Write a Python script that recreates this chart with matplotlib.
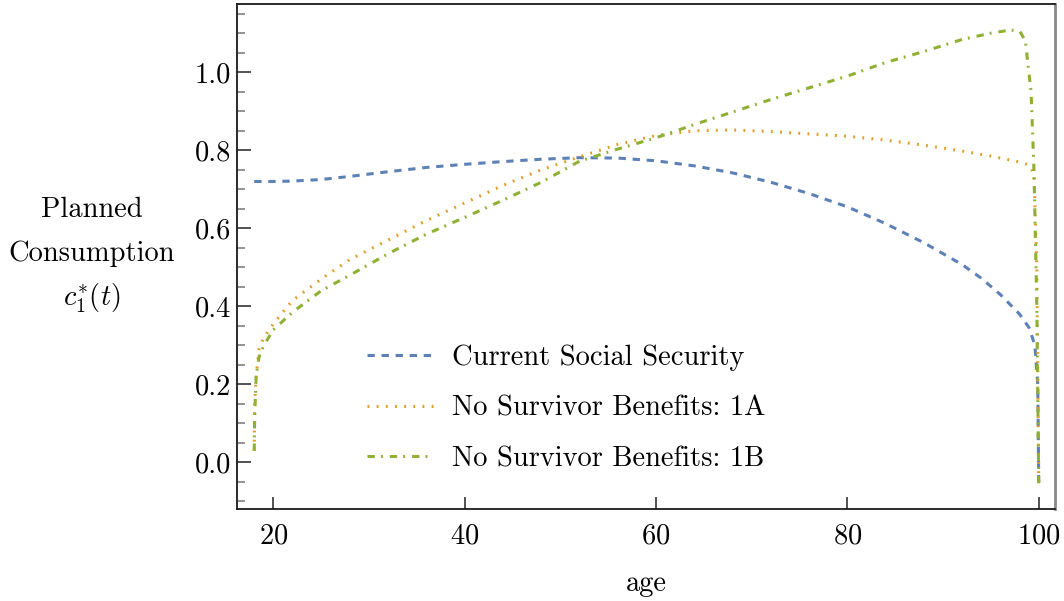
import numpy as np
import matplotlib
matplotlib.use("Agg")
import matplotlib.pyplot as plt
from matplotlib.ticker import MultipleLocator, FormatStrFormatter

plt.rcParams['font.family'] = 'cmr10'
plt.rcParams['mathtext.fontset'] = 'cm'
plt.rcParams['axes.formatter.use_mathtext'] = True
plt.rcParams['axes.unicode_minus'] = False

# planned consumption paths by age
age_cur = [18, 20, 22, 25, 28, 32, 36, 40, 44, 48, 52, 56, 60, 64, 68, 72, 76,
           80, 84, 88, 92, 94, 96, 98, 99, 99.6, 99.9, 100]
c_cur = [0.72, 0.72, 0.721, 0.725, 0.733, 0.745, 0.756, 0.764, 0.771, 0.777,
         0.781, 0.780, 0.773, 0.760, 0.742, 0.718, 0.689, 0.655, 0.612, 0.563,
         0.507, 0.472, 0.43, 0.38, 0.345, 0.30, 0.20, -0.055]

age_1a = [18, 18.05, 18.2, 18.5, 19, 20, 22, 25, 28, 32, 36, 40, 44, 48, 52,
          56, 60, 64, 68, 72, 76, 80, 84, 88, 92, 95, 97, 98, 99, 99.5, 99.8, 100]
c_1a = [0.03, 0.15, 0.22, 0.29, 0.32, 0.355, 0.415, 0.47, 0.52, 0.57, 0.62,
        0.665, 0.71, 0.75, 0.783, 0.815, 0.838, 0.85, 0.852, 0.848, 0.842,
        0.836, 0.826, 0.813, 0.798, 0.785, 0.775, 0.77, 0.762, 0.74, 0.5, -0.055]

age_1b = [18, 18.05, 18.2, 18.5, 19, 20, 22, 25, 28, 32, 36, 40, 44, 48, 52,
          56, 60, 64, 68, 72, 76, 80, 84, 88, 92, 95, 97, 98, 98.6, 99.2, 99.5,
          99.8, 100]
c_1b = [0.03, 0.12, 0.22, 0.27, 0.30, 0.34, 0.385, 0.44, 0.48, 0.535, 0.585,
        0.628, 0.672, 0.718, 0.772, 0.803, 0.832, 0.866, 0.898, 0.93, 0.96,
        0.99, 1.025, 1.053, 1.084, 1.10, 1.108, 1.106, 1.08, 0.95, 0.75, 0.4,
        -0.055]

labels = ['Current Social Security', 'No Survivor Benefits: 1A',
          'No Survivor Benefits: 1B']
colors = ['#5E81B5', '#E19C24', '#8FB032']

fs = 20.5

fig = plt.figure(figsize=(10.64, 6.01), dpi=100)
ax = fig.add_axes([237 / 1064, 1 - 509.3 / 601, 818 / 1064, 505 / 601])

lw = 2.2
ax.plot(age_cur, c_cur, color=colors[0], lw=lw, dashes=(2.4, 2.2),
        dash_capstyle='butt', label=labels[0])
ax.plot(age_1a, c_1a, color=colors[1], lw=lw, dashes=(0.6, 2.4),
        dash_capstyle='butt', label=labels[1])
ax.plot(age_1b, c_1b, color=colors[2], lw=lw, dashes=(2.4, 2.0, 0.6, 2.3),
        dash_capstyle='butt', label=labels[2])

ax.set_xlim(16.2, 101.7)
ax.set_ylim(-0.12, 1.174)

ax.xaxis.set_major_locator(MultipleLocator(20))
ax.yaxis.set_major_locator(MultipleLocator(0.2))
ax.yaxis.set_minor_locator(MultipleLocator(0.05))
ax.yaxis.set_major_formatter(FormatStrFormatter('%.1f'))

ax.tick_params(axis='both', which='both', direction='in', top=False,
               right=False, labelsize=fs, colors='#222222',
               labelcolor='black')
ax.tick_params(axis='x', which='major', length=9, width=1.1, pad=10)
ax.tick_params(axis='y', which='major', length=10, width=1.1, pad=4.5)
ax.tick_params(axis='y', which='minor', length=6, width=1.1, color='#777777')

for side in ['left', 'bottom', 'top']:
    ax.spines[side].set_color('#1a1a1a')
    ax.spines[side].set_linewidth(1.3)
ax.spines['right'].set_color('#888888')
ax.spines['right'].set_linewidth(2)

ax.set_xlabel('age', fontsize=fs, labelpad=15)

ylab_x = 92 / 1064
fig.text(ylab_x, 1 - 210 / 601, 'Planned', fontsize=fs, ha='center', va='center')
fig.text(ylab_x, 1 - 254 / 601, 'Consumption', fontsize=fs, ha='center', va='center')
fig.text(ylab_x, 1 - 298 / 601, r'$c_1^{*}(t)$', fontsize=fs, ha='center', va='center')

ax.legend(loc='center left', bbox_to_anchor=(0.159, 0.2), frameon=False,
          fontsize=fs, handlelength=2.3, handletextpad=0.7,
          labelspacing=0.85, borderpad=0, borderaxespad=0)

fig.savefig('out.png', dpi=100)
